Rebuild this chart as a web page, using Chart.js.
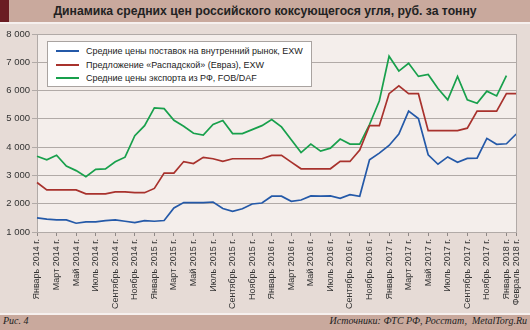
<!DOCTYPE html>
<html>
<head>
<meta charset="utf-8">
<script src="https://cdn.jsdelivr.net/npm/chart.js@4.4.1/dist/chart.umd.min.js"></script>
<style>
  body{margin:0;background:#e6dbd6;}
  #wrap{position:relative;width:530px;height:330px;background:#e6dbd6;overflow:hidden;font-family:"Liberation Sans",Arial,sans-serif;}
  #chartBox{position:absolute;left:0;top:0;width:530px;height:330px;}
  #title{position:absolute;left:0;top:0;width:530px;height:22px;background:#c9a99d;}
  #title .mark{position:absolute;left:0;top:0;width:9px;height:22px;background:#6b1c22;}
  #title .txt{position:absolute;left:0;top:0;width:530px;line-height:22px;text-align:center;font-weight:bold;font-size:12.2px;color:#222;}
  #sep{position:absolute;left:0;top:22px;width:530px;height:2px;background:#f6f0ee;}
  #legend{position:absolute;left:47px;top:41px;width:263px;height:44px;background:#fff;border:1px solid #a9a3a0;}
  #legend .row{position:absolute;left:0;height:14px;width:260px;}
  #legend .ln{position:absolute;left:8px;top:6px;width:23px;height:2px;}
  #legend .lb{position:absolute;left:38px;top:0;line-height:14px;font-size:9px;color:#222;white-space:nowrap;}
  #fsep{position:absolute;left:0;top:313px;width:530px;height:2px;background:#f6f0ee;}
  #footer{position:absolute;left:0;top:315px;width:530px;height:15px;background:#c9a99d;font-family:"Liberation Serif","Times New Roman",serif;font-style:italic;font-size:10px;color:#222;}
  #footer .l{position:absolute;left:3px;top:0;line-height:12px;}
  #footer .r{position:absolute;right:3px;top:0;line-height:12px;}
</style>
</head>
<body>
<div id="wrap">
  <div id="chartBox"><canvas id="chart"></canvas></div>
  <div id="title"><div class="mark"></div><div class="txt">Динамика средних цен российского коксующегося угля, руб. за тонну</div></div>
  <div id="sep"></div>
  <div id="legend"></div>
  <div id="fsep"></div>
  <div id="footer"><span class="l">Рис. 4</span><span class="r">Источники: ФТС РФ, Росстат,&nbsp; MetalTorg.Ru</span></div>
</div>
<script>
// months Jan 2014 .. Feb 2018
let categories = [
  "Январь 2014 г.","Февраль 2014 г.","Март 2014 г.","Апрель 2014 г.","Май 2014 г.","Июнь 2014 г.",
  "Июль 2014 г.","Август 2014 г.","Сентябрь 2014 г.","Октябрь 2014 г.","Ноябрь 2014 г.","Декабрь 2014 г.",
  "Январь 2015 г.","Февраль 2015 г.","Март 2015 г.","Апрель 2015 г.","Май 2015 г.","Июнь 2015 г.",
  "Июль 2015 г.","Август 2015 г.","Сентябрь 2015 г.","Октябрь 2015 г.","Ноябрь 2015 г.","Декабрь 2015 г.",
  "Январь 2016 г.","Февраль 2016 г.","Март 2016 г.","Апрель 2016 г.","Май 2016 г.","Июнь 2016 г.",
  "Июль 2016 г.","Август 2016 г.","Сентябрь 2016 г.","Октябрь 2016 г.","Ноябрь 2016 г.","Декабрь 2016 г.",
  "Январь 2017 г.","Февраль 2017 г.","Март 2017 г.","Апрель 2017 г.","Май 2017 г.","Июнь 2017 г.",
  "Июль 2017 г.","Август 2017 г.","Сентябрь 2017 г.","Октябрь 2017 г.","Ноябрь 2017 г.","Декабрь 2017 г.",
  "Январь 2018 г.","Февраль 2018 г."
];

let domestic = [
  1500,1455,1430,1430,1310,1360,1360,1405,1430,1380,1335,1405,
  1380,1405,1850,2040,2040,2040,2060,1830,1730,1820,1990,2025,
  2265,2265,2085,2130,2275,2265,2275,2190,2320,2265,3550,3790,
  4060,4465,5275,5010,3730,3395,3655,3465,3600,3610,4310,4100,
  4120,4465
];

let raspadskaya = [
  2750,2490,2490,2490,2490,2350,2350,2350,2420,2420,2390,2390,
  2540,3080,3080,3490,3420,3640,3590,3495,3590,3590,3590,3590,
  3710,3710,3470,3235,3235,3235,3235,3495,3495,3900,4760,4760,
  5890,6165,5890,5890,4585,4585,4585,4585,4670,5275,5275,5275,
  5890,5890
];

let exportFob = [
  3680,3550,3715,3335,3170,2955,3215,3230,3480,3645,4405,4760,
  5390,5360,4950,4740,4490,4430,4800,4940,4480,4480,4620,4760,
  4975,4715,4260,3810,4110,3860,3965,4285,4110,4110,4800,5630,
  7215,6690,6965,6500,6570,6070,5670,6500,5670,5550,5980,5810,
  6525,null
];

let seriesNames = [
  "Средние цены поставок на внутренний рынок, EXW",
  "Предложение «Распадской» (Евраз), EXW",
  "Средние цены экспорта из РФ, FOB/DAF"
];
let seriesColors = ["#2459a8", "#a8322d", "#18a04c"];

let yTicks = [1000,2000,3000,4000,5000,6000,7000,8000];

let lastIdx = categories.length - 1;
function shown(i){ return i % 2 === 0 || i === lastIdx; }

let gridCol = "#b1aaa7";

let plotBg = {
  id: "plotBg",
  beforeDraw(c){
    let a = c.chartArea, ctx = c.ctx;
    ctx.save();
    ctx.fillStyle = "#f4eeeb";
    ctx.fillRect(a.left, a.top, a.right - a.left, a.bottom - a.top);
    ctx.restore();
  },
  afterDraw(c){
    let a = c.chartArea, ctx = c.ctx;
    ctx.save();
    ctx.strokeStyle = gridCol;
    ctx.lineWidth = 1;
    ctx.beginPath();
    ctx.moveTo(Math.round(a.right) + 0.5, a.top);
    ctx.lineTo(Math.round(a.right) + 0.5, a.bottom);
    ctx.stroke();
    ctx.restore();
  }
};

Chart.defaults.font.family = '"Liberation Sans", Arial, sans-serif';

let chart = new Chart(document.getElementById("chart"), {
  type: "line",
  data: {
    labels: categories,
    datasets: [
      {label: seriesNames[0], data: domestic, borderColor: seriesColors[0]},
      {label: seriesNames[1], data: raspadskaya, borderColor: seriesColors[1]},
      {label: seriesNames[2], data: exportFob, borderColor: seriesColors[2]}
    ]
  },
  options: {
    responsive: true,
    maintainAspectRatio: false,
    animation: false,
    layout: {padding: {top: 34, right: 11, left: 0, bottom: 0}},
    elements: {
      point: {radius: 0},
      line: {borderWidth: 1.7, tension: 0, fill: false}
    },
    plugins: {legend: {display: false}, tooltip: {enabled: false}},
    scales: {
      x: {
        offset: false,
        grid: {
          drawOnChartArea: false,
          tickLength: 4,
          color: gridCol,
          tickColor: ctx => shown(ctx.index) ? "#8f8886" : "rgba(0,0,0,0)"
        },
        border: {color: gridCol},
        ticks: {
          autoSkip: false,
          maxRotation: 90,
          minRotation: 90,
          padding: 3,
          color: "#333",
          font: {size: 9},
          callback: (v, i) => shown(i) ? categories[i] : ""
        },
        afterFit: s => { s.height = 98; }
      },
      y: {
        min: yTicks[0],
        max: yTicks[yTicks.length - 1],
        afterBuildTicks: s => { s.ticks = yTicks.map(v => ({value: v})); },
        grid: {color: gridCol, tickLength: 5},
        border: {color: gridCol},
        ticks: {
          padding: 2,
          color: "#333",
          font: {size: 9.5},
          callback: v => String(v).replace(/\B(?=(\d{3})+(?!\d))/g, " ")
        },
        afterFit: s => { s.width = 37; }
      }
    }
  },
  plugins: [plotBg]
});

// legend box
let leg = document.getElementById("legend");
leg.innerHTML = chart.data.datasets.map((d, i) =>
  `<div class="row" style="top:${2 + i*13.5}px"><span class="ln" style="background:${d.borderColor}"></span><span class="lb">${d.label}</span></div>`
).join("");
</script>
</body>
</html>
